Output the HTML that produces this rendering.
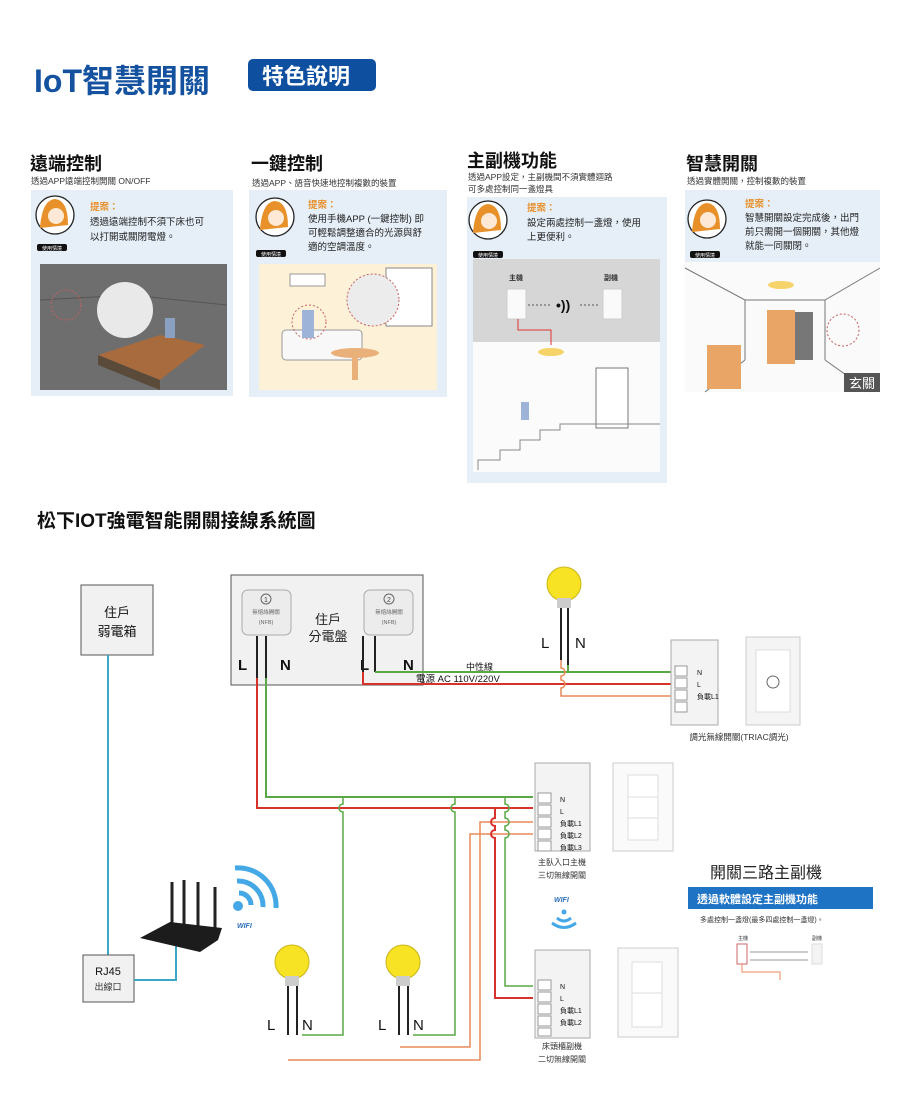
<!DOCTYPE html>
<html><head><meta charset="utf-8"><style>
html,body{margin:0;padding:0;background:#fff;}
svg{display:block;}
text{font-family:"Liberation Sans","Noto Sans CJK TC",sans-serif;}
</style></head><body>
<svg width="908" height="1115" viewBox="0 0 908 1115" xmlns="http://www.w3.org/2000/svg">
<text x="34" y="92" font-size="32" font-weight="bold" fill="#1452a0">IoT智慧開關</text>
<rect x="248" y="59" width="128" height="32" rx="5" fill="#0e4f9f"/>
<text x="262" y="84" font-size="22" font-weight="bold" fill="#fff">特色說明</text>

<g font-weight="bold" fill="#111">
<text x="30" y="170" font-size="18">遠端控制</text>
<text x="251" y="170" font-size="18">一鍵控制</text>
<text x="467" y="167" font-size="18">主副機功能</text>
<text x="686" y="170" font-size="18">智慧開關</text>
</g>
<g font-size="8.5" fill="#333">
<text x="31" y="184">透過APP遠端控制開關 ON/OFF</text>
<text x="252" y="186">透過APP、語音快速地控制複數的裝置</text>
<text x="468" y="180">透過APP設定，主副機間不須實體迴路</text>
<text x="468" y="192">可多處控制同一盞燈具</text>
<text x="687" y="184">透過實體開關，控制複數的裝置</text>
</g>

<rect x="31" y="190" width="202" height="206" fill="#e6eff8"/>
<rect x="249" y="190" width="198" height="207" fill="#e6eff8"/>
<rect x="467" y="197" width="200" height="286" fill="#e6eff8"/>
<rect x="685" y="190" width="195" height="202" fill="#e6eff8"/>

<g>
<circle cx="55" cy="215" r="19" fill="#fff" stroke="#222" stroke-width="1.3"/><path d="M40 228 Q42 200 55 199 Q68 200 68 225 Z" fill="#e8902a"/><circle cx="56" cy="216" r="8" fill="#fde9d6"/>
<rect x="37" y="244" width="30" height="7" rx="2" fill="#111"/><text x="42" y="250" font-size="5" fill="#fff">使用情境</text>
<circle cx="275" cy="217" r="19" fill="#fff" stroke="#222" stroke-width="1.3"/><path d="M260 230 Q262 202 275 201 Q288 202 288 227 Z" fill="#e8902a"/><circle cx="276" cy="218" r="8" fill="#fde9d6"/>
<rect x="256" y="250" width="30" height="7" rx="2" fill="#111"/><text x="261" y="256" font-size="5" fill="#fff">使用情境</text>
<circle cx="488" cy="220" r="19" fill="#fff" stroke="#222" stroke-width="1.3"/><path d="M473 233 Q475 205 488 204 Q501 205 501 230 Z" fill="#e8902a"/><circle cx="489" cy="221" r="8" fill="#fde9d6"/>
<rect x="473" y="251" width="30" height="7" rx="2" fill="#111"/><text x="478" y="257" font-size="5" fill="#fff">使用情境</text>
<circle cx="707" cy="219" r="19" fill="#fff" stroke="#222" stroke-width="1.3"/><path d="M692 232 Q694 204 707 203 Q720 204 720 229 Z" fill="#e8902a"/><circle cx="708" cy="220" r="8" fill="#fde9d6"/>
<rect x="690" y="251" width="30" height="7" rx="2" fill="#111"/><text x="695" y="257" font-size="5" fill="#fff">使用情境</text>
</g>
<g font-size="9.5" fill="#222">
<text x="90" y="210" fill="#e8902a" font-weight="bold">提案：</text>
<text x="90" y="225">透過遠端控制不須下床也可</text>
<text x="90" y="240">以打開或關閉電燈。</text>
<text x="308" y="208" fill="#e8902a" font-weight="bold">提案：</text>
<text x="308" y="222">使用手機APP (一鍵控制) 即</text>
<text x="308" y="236">可輕鬆調整適合的光源與舒</text>
<text x="308" y="250">適的空調溫度。</text>
<text x="527" y="211" fill="#e8902a" font-weight="bold">提案：</text>
<text x="527" y="226">設定兩處控制一盞燈，使用</text>
<text x="527" y="240">上更便利。</text>
<text x="745" y="207" fill="#e8902a" font-weight="bold">提案：</text>
<text x="745" y="221">智慧開關設定完成後，出門</text>
<text x="745" y="235">前只需開一個開關，其他燈</text>
<text x="745" y="249">就能一同關閉。</text>
</g>

<rect x="40" y="264" width="187" height="126" fill="#6e6e6e"/>
<path d="M40 300 L130 295 L227 305" stroke="#555" fill="none"/>
<path d="M98 355 L160 335 L205 345 L160 380 Z" fill="#a86b3e"/>
<path d="M98 355 L160 380 L160 390 L98 365 Z" fill="#5a4a3a"/>
<circle cx="125" cy="310" r="28" fill="#e9e9e9"/>
<circle cx="66" cy="305" r="15" fill="none" stroke="#c86060" stroke-dasharray="2 2"/>
<rect x="165" y="318" width="10" height="20" fill="#8aa0c0"/>
<rect x="259" y="264" width="178" height="126" fill="#fdf1d8"/>
<rect x="386" y="268" width="46" height="58" fill="#fff" stroke="#888"/>
<rect x="290" y="274" width="35" height="12" fill="#fff" stroke="#999"/>
<rect x="282" y="330" width="80" height="30" rx="4" fill="#f8f8f8" stroke="#999"/>
<ellipse cx="355" cy="353" rx="24" ry="5" fill="#e9b07a"/>
<rect x="352" y="355" width="6" height="25" fill="#e9b07a"/>
<circle cx="373" cy="300" r="26" fill="#ececec" stroke="#c86060" stroke-dasharray="2 2"/>
<circle cx="309" cy="322" r="17" fill="none" stroke="#c86060" stroke-dasharray="2 2"/>
<rect x="302" y="310" width="12" height="28" fill="#9db4d8"/>
<rect x="473" y="259" width="187" height="83" fill="#d6d6d6"/>
<rect x="473" y="342" width="187" height="130" fill="#fbfbfb"/>
<text x="509" y="280" font-size="7" font-weight="bold" fill="#333">主機</text>
<text x="604" y="280" font-size="7" font-weight="bold" fill="#333">副機</text>
<rect x="507" y="289" width="19" height="30" fill="#fafafa" stroke="#ccc"/>
<rect x="603" y="289" width="19" height="30" fill="#fafafa" stroke="#ccc"/>
<text x="556" y="310" font-size="14" font-weight="bold" fill="#111">•))</text>
<path d="M528 305 H552 M580 305 H600" stroke="#555" stroke-dasharray="2 2"/>
<path d="M518 319 V330 H551 V345" stroke="#d33" fill="none"/>
<ellipse cx="551" cy="352" rx="13" ry="4" fill="#f6d46a"/>
<rect x="596" y="368" width="32" height="60" fill="#fff" stroke="#777"/>
<path d="M478 470 V460 H500 V450 H520 V440 H540 V430 H560 V424 H660" stroke="#888" fill="none"/>
<rect x="521" y="402" width="8" height="18" fill="#9db4d8"/>
<rect x="685" y="262" width="195" height="130" fill="#fafafa"/>
<path d="M685 268 L745 300 L825 300 L880 268 M745 300 V360 M825 300 V360 M745 360 L705 392 M825 360 L870 392" stroke="#777" fill="none"/>
<rect x="767" y="310" width="28" height="54" fill="#e9a565"/>
<rect x="795" y="312" width="18" height="48" fill="#777"/>
<rect x="707" y="345" width="34" height="44" fill="#e9a565"/>
<ellipse cx="781" cy="285" rx="13" ry="4" fill="#f6d46a"/>
<circle cx="843" cy="330" r="16" fill="none" stroke="#c86060" stroke-dasharray="2 2"/>
<rect x="844" y="373" width="36" height="19" fill="#555"/>
<text x="849" y="388" font-size="13" fill="#fff">玄關</text>

<text x="37" y="527" font-size="19" font-weight="bold" fill="#111">松下IOT強電智能開關接線系統圖</text>

<rect x="81" y="585" width="72" height="70" fill="#f1f1f1" stroke="#555"/>
<text x="117" y="617" font-size="13" text-anchor="middle" fill="#111">住戶</text>
<text x="117" y="636" font-size="13" text-anchor="middle" fill="#111">弱電箱</text>
<path d="M108 655 V955" stroke="#3aa6c8" stroke-width="2"/>
<rect x="83" y="955" width="51" height="47" fill="#f1f1f1" stroke="#555"/>
<text x="108" y="975" font-size="11" text-anchor="middle" fill="#111">RJ45</text>
<text x="108" y="990" font-size="9" text-anchor="middle" fill="#333">出線口</text>
<path d="M134 980 H176 V945" stroke="#3aa6c8" stroke-width="2" fill="none"/>
<g stroke="#222" stroke-width="3"><path d="M172 928 V882 M184 928 V880 M198 928 V882 M215 930 V887"/></g>
<path d="M140 938 L170 922 L222 928 L218 940 L200 952 Z" fill="#1c1c1c"/>
<g fill="none" stroke="#45a8e6" stroke-width="5">
<path d="M239 893 A12 12 0 0 1 251 905"/><path d="M237 881 A25 25 0 0 1 263 907"/><path d="M235 868 A38 38 0 0 1 276 908"/>
</g>
<circle cx="238" cy="906" r="5" fill="#45a8e6"/>
<text x="237" y="928" font-size="7" font-style="italic" font-weight="bold" fill="#2c6fb8">WIFI</text>

<rect x="231" y="575" width="192" height="110" fill="#f1f1f1" stroke="#555"/>
<rect x="242" y="590" width="49" height="45" rx="6" fill="#ececec" stroke="#aaa"/>
<rect x="364" y="590" width="49" height="45" rx="6" fill="#ececec" stroke="#aaa"/>
<circle cx="266" cy="599" r="5" fill="none" stroke="#666"/><text x="266" y="602" font-size="7" text-anchor="middle" fill="#444">1</text>
<circle cx="389" cy="599" r="5" fill="none" stroke="#666"/><text x="389" y="602" font-size="7" text-anchor="middle" fill="#444">2</text>
<g font-size="5.5" fill="#666" text-anchor="middle">
<text x="266" y="614">無熔絲開關</text><text x="266" y="624">(NFB)</text>
<text x="389" y="614">無熔絲開關</text><text x="389" y="624">(NFB)</text>
</g>
<text x="328" y="624" font-size="13" text-anchor="middle" fill="#222">住戶</text>
<text x="328" y="641" font-size="13" text-anchor="middle" fill="#222">分電盤</text>
<g font-size="15" font-weight="bold" fill="#111">
<text x="238" y="670">L</text><text x="280" y="670">N</text>
<text x="360" y="670">L</text><text x="403" y="670">N</text>
</g>
<g stroke="#222" stroke-width="2">
<path d="M257 636 V678 M266 636 V678 M363 636 V672 M375 636 V672"/>
</g>
<path d="M257 678 V808 H533" stroke="#d7322a" stroke-width="2" fill="none"/>
<path d="M266 678 V797 H533" stroke="#5aa845" stroke-width="2" fill="none"/>
<path d="M375 672 H671" stroke="#5aa845" stroke-width="2" fill="none"/>
<path d="M363 672 V684 H671" stroke="#d7322a" stroke-width="2" fill="none"/>
<text x="466" y="670" font-size="9" fill="#111">中性線</text>
<text x="416" y="682" font-size="9.5" fill="#111">電源 AC 110V/220V</text>

<circle cx="564" cy="584" r="17" fill="#f7e323" stroke="#c9b41a"/>
<rect x="557" y="598" width="14" height="10" fill="#ccc"/>
<path d="M561 608 V660 M568 608 V665" stroke="#222" stroke-width="2"/>
<path d="M568 665 V672" stroke="#5aa845" stroke-width="2"/>
<path d="M561 660 V668 A4 4 0 0 1 561 676 V680 A4 4 0 0 1 561 688 V696 H671" stroke="#e98a5a" stroke-width="1.5" fill="none"/>
<text x="541" y="648" font-size="15" fill="#111">L</text><text x="575" y="648" font-size="15" fill="#111">N</text>

<rect x="671" y="640" width="47" height="85" fill="#f3f3f3" stroke="#aaa"/>
<g fill="#fff" stroke="#999"><rect x="675" y="666" width="12" height="10"/><rect x="675" y="678" width="12" height="10"/><rect x="675" y="690" width="12" height="10"/><rect x="675" y="702" width="12" height="10"/></g>
<g font-size="7" fill="#111"><text x="697" y="675">N</text><text x="697" y="687">L</text><text x="697" y="699">負載L1</text></g>
<rect x="746" y="637" width="54" height="88" fill="#f4f4f4" stroke="#ccc"/>
<rect x="756" y="650" width="34" height="62" fill="#fff" stroke="#ddd"/>
<circle cx="773" cy="682" r="6" fill="none" stroke="#666"/>
<text x="739" y="740" font-size="8.5" text-anchor="middle" fill="#333">調光無線開關(TRIAC調光)</text>

<rect x="535" y="763" width="55" height="88" fill="#f3f3f3" stroke="#aaa"/>
<g fill="#fff" stroke="#999"><rect x="538" y="793" width="13" height="10"/><rect x="538" y="805" width="13" height="10"/><rect x="538" y="817" width="13" height="10"/><rect x="538" y="829" width="13" height="10"/><rect x="538" y="841" width="13" height="10"/></g>
<g font-size="7" fill="#111"><text x="560" y="802">N</text><text x="560" y="814">L</text><text x="560" y="826">負載L1</text><text x="560" y="838">負載L2</text><text x="560" y="850">負載L3</text></g>
<text x="562" y="865" font-size="8" text-anchor="middle" fill="#333">主臥入口主機</text>
<text x="562" y="878" font-size="8" text-anchor="middle" fill="#333">三切無線開關</text>
<rect x="613" y="763" width="60" height="88" fill="#fafafa" stroke="#ccc"/>
<rect x="628" y="775" width="30" height="65" fill="#fff" stroke="#ddd"/>
<path d="M628 797 H658 M628 818 H658" stroke="#ddd"/>

<text x="554" y="902" font-size="7" font-style="italic" font-weight="bold" fill="#2c6fb8">WIFI</text>
<circle cx="564" cy="912" r="2.5" fill="#45a8e6"/>
<g fill="none" stroke="#45a8e6" stroke-width="3"><path d="M557 918 Q564 924 571 918"/><path d="M552 923 Q564 932 576 923"/></g>

<rect x="535" y="950" width="55" height="88" fill="#f3f3f3" stroke="#aaa"/>
<g fill="#fff" stroke="#999"><rect x="538" y="980" width="13" height="10"/><rect x="538" y="992" width="13" height="10"/><rect x="538" y="1004" width="13" height="10"/><rect x="538" y="1016" width="13" height="10"/><rect x="538" y="1028" width="13" height="8"/></g>
<g font-size="7" fill="#111"><text x="560" y="989">N</text><text x="560" y="1001">L</text><text x="560" y="1013">負載L1</text><text x="560" y="1025">負載L2</text></g>
<text x="562" y="1049" font-size="8" text-anchor="middle" fill="#333">床頭櫃副機</text>
<text x="562" y="1062" font-size="8" text-anchor="middle" fill="#333">二切無線開關</text>
<rect x="618" y="948" width="60" height="89" fill="#fafafa" stroke="#ccc"/>
<rect x="632" y="962" width="30" height="65" fill="#fff" stroke="#ddd"/>
<path d="M632 993 H662" stroke="#ddd"/>

<!-- wiring with hops -->
<path d="M343 797 V804 A4 4 0 0 0 343 812 V1035 H302" stroke="#5aa845" stroke-width="1.5" fill="none"/>
<path d="M455 797 V804 A4 4 0 0 0 455 812 V1035 H413" stroke="#5aa845" stroke-width="1.5" fill="none"/>
<path d="M533 822 H480 V1060 H288" stroke="#e98a5a" stroke-width="1.5" fill="none"/>
<path d="M533 834 H470 V1047 H400" stroke="#e98a5a" stroke-width="1.5" fill="none"/>
<path d="M495 808 V818 A4 4 0 0 0 495 826 V830 A4 4 0 0 0 495 838 V998 H533" stroke="#d7322a" stroke-width="2" fill="none"/>
<path d="M505 797 V804 A4 4 0 0 1 505 812 V818 A4 4 0 0 1 505 826 V830 A4 4 0 0 1 505 838 V986 H533" stroke="#5aa845" stroke-width="1.5" fill="none"/>

<circle cx="292" cy="962" r="17" fill="#f7e323" stroke="#c9b41a"/>
<rect x="285" y="976" width="14" height="10" fill="#ccc"/>
<path d="M288 986 V1035 M297 986 V1035" stroke="#222" stroke-width="2"/>
<text x="267" y="1030" font-size="15" fill="#111">L</text><text x="302" y="1030" font-size="15" fill="#111">N</text>
<circle cx="403" cy="962" r="17" fill="#f7e323" stroke="#c9b41a"/>
<rect x="396" y="976" width="14" height="10" fill="#ccc"/>
<path d="M399 986 V1035 M408 986 V1035" stroke="#222" stroke-width="2"/>
<text x="378" y="1030" font-size="15" fill="#111">L</text><text x="413" y="1030" font-size="15" fill="#111">N</text>

<text x="710" y="878" font-size="16" fill="#222">開關三路主副機</text>
<rect x="688" y="887" width="185" height="22" fill="#1e73c4"/>
<text x="697" y="903" font-size="11" font-weight="bold" fill="#fff">透過軟體設定主副機功能</text>
<text x="700" y="922" font-size="7" fill="#333">多處控制一盞燈(最多四處控制一盞燈)。</text>
<text x="738" y="940" font-size="5" fill="#333">主機</text><text x="812" y="940" font-size="5" fill="#333">副機</text>
<rect x="737" y="944" width="10" height="20" fill="#fff" stroke="#c66"/>
<rect x="812" y="944" width="10" height="20" fill="#f3f3f3" stroke="#ddd"/>
<path d="M750 952 H808 M750 960 H808" stroke="#999"/>
<path d="M742 964 V972 H780 V980" stroke="#e98a5a" fill="none"/>
</svg>
</body></html>
